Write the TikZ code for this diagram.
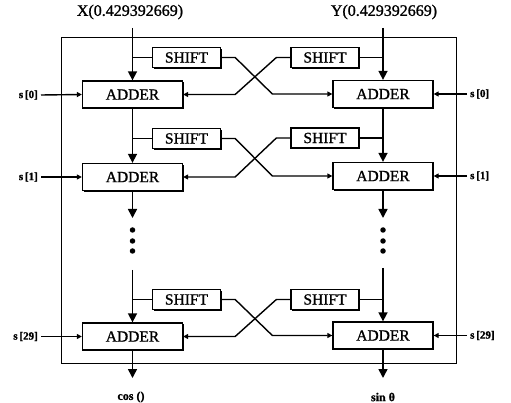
\documentclass[tikz,border=0pt]{standalone}
\usepackage{fontspec}
\setmainfont{Liberation Serif}[FakeBold=1.2]
\usetikzlibrary{arrows.meta,shadows,calc}
\tikzset{
  box/.style={draw, line width=1.3pt, fill=white, inner sep=0pt, font=\fontsize{15.5}{16}\selectfont,
    general shadow={fill=black, shadow xshift=1.3pt, shadow yshift=-1.3pt}},
  adder/.style={box, minimum width=100pt, minimum height=27pt},
  shifter/.style={box, minimum width=68pt, minimum height=20pt},
  wire/.style={line width=1.6pt},
  bigarr/.style={wire, -{Triangle[width=9pt,length=9pt]}},
  smallarr/.style={line width=1.4pt, -{Triangle[width=5pt,length=5pt]}},
  slabel/.style={font=\fontsize{11}{12}\selectfont\bfseries, inner sep=0pt},
  toplabel/.style={font=\fontsize{16}{18}\selectfont, inner sep=0pt},
  outlabel/.style={font=\fontsize{12}{14}\selectfont\bfseries, inner sep=0pt},
  dot/.style={circle, fill=black, inner sep=0pt, minimum size=5.5pt},
}
\begin{document}
\begin{tikzpicture}[x=1pt,y=-1pt]
\useasboundingbox (0,0) rectangle (511,403);
% frame
\draw[line width=0.8pt] (61,37) rectangle (456,363);

% adders and shifters
\node[adder] (aL1) at (132.5,94.5) {ADDER};
\node[adder] (aR1) at (383,94) {ADDER};
\node[shifter] (sL1) at (186.5,57.5) {SHIFT};
\node[shifter] (sR1) at (325,57.5) {SHIFT};

\node[adder] (aL2) at (132.5,177) {ADDER};
\node[adder] (aR2) at (383,176) {ADDER};
\node[shifter] (sL2) at (186.5,138.5) {SHIFT};
\node[shifter] (sR2) at (325,138) {SHIFT};

\node[adder] (aL3) at (132.5,336.5) {ADDER};
\node[adder] (aR3) at (383,335.5) {ADDER};
\node[shifter] (sL3) at (186.5,299.5) {SHIFT};
\node[shifter] (sR3) at (325,299.5) {SHIFT};

% top inputs
\coordinate (inX) at (132.5,28);
\coordinate (inY) at (383,28);
\node[toplabel] (lX) at (130,12) {X(0.429392669)};
\node[toplabel] (lY) at (384,12) {Y(0.429392669)};
\draw[bigarr] (inX) -- (aL1.north);
\draw[bigarr] (inY) -- (aR1.north);

% row 1 branches & cross
\draw[wire] (inX |- sL1) -- (sL1.west);
\draw[wire] (inY |- sR1) -- (sR1.east);
\draw[smallarr] (sL1.east) -- ++(14,0) -- ($(aR1.west)+(-60,0)$) -- (aR1.west);
\draw[smallarr] (sR1.west) -- ++(-14,0) -- ($(aL1.east)+(52,0)$) -- (aL1.east);

% row 2
\draw[bigarr] (aL1.south) -- (aL2.north);
\draw[bigarr] (aR1.south) -- (aR2.north);
\draw[wire] (aL1.south |- sL2) -- (sL2.west);
\draw[wire] (aR1.south |- sR2) -- (sR2.east);
\draw[smallarr] (sL2.east) -- ++(14,0) -- ($(aR2.west)+(-60,0)$) -- (aR2.west);
\draw[smallarr] (sR2.west) -- ++(-14,0) -- ($(aL2.east)+(52,0)$) -- (aL2.east);

% continuation
\coordinate (cL) at (132.5,218);
\coordinate (cR) at (383,218);
\draw[bigarr] (aL2.south) -- (cL);
\draw[bigarr] (aR2.south) -- (cR);
\node[dot] (dL1) at (132.5,230) {};
\node[dot] (dL2) at (132.5,241) {};
\node[dot] (dL3) at (132.5,251) {};
\node[dot] (dR1) at (383,230) {};
\node[dot] (dR2) at (383,241) {};
\node[dot] (dR3) at (383,251) {};

% row 3
\coordinate (tL) at (132.5,270);
\coordinate (tR) at (383,268);
\draw[bigarr] (tL) -- (aL3.north);
\draw[bigarr] (tR) -- (aR3.north);
\draw[wire] (tL |- sL3) -- (sL3.west);
\draw[wire] (tR |- sR3) -- (sR3.east);
\draw[smallarr] (sL3.east) -- ++(14,0) -- ($(aR3.west)+(-60,0)$) -- (aR3.west);
\draw[smallarr] (sR3.west) -- ++(-14,0) -- ($(aL3.east)+(52,0)$) -- (aL3.east);

% outputs
\coordinate (oL) at (132.5,378);
\coordinate (oR) at (383,378);
\draw[bigarr] (aL3.south) -- (oL);
\draw[bigarr] (aR3.south) -- (oR);
\node[outlabel] (cosl) at (131,397) {cos ()};
\node[outlabel] (sinl) at (383,397) {sin θ};

% side inputs
\node[slabel, anchor=east] (s0L) at (38,95) {s\,[0]};
\node[slabel, anchor=west] (s0R) at (470,94) {s\,[0]};
\node[slabel, anchor=east] (s1L) at (38,177) {s\,[1]};
\node[slabel, anchor=west] (s1R) at (470,176) {s\,[1]};
\node[slabel, anchor=east] (s29L) at (38,336.5) {s\,[29]};
\node[slabel, anchor=west] (s29R) at (470,335.5) {s\,[29]};
\draw[smallarr] ([xshift=3pt]s0L.east) -- (aL1.west);
\draw[smallarr] ([xshift=-3pt]s0R.west) -- (aR1.east);
\draw[smallarr] ([xshift=3pt]s1L.east) -- (aL2.west);
\draw[smallarr] ([xshift=-3pt]s1R.west) -- (aR2.east);
\draw[smallarr] ([xshift=3pt]s29L.east) -- (aL3.west);
\draw[smallarr] ([xshift=-3pt]s29R.west) -- (aR3.east);
\end{tikzpicture}
\end{document}
